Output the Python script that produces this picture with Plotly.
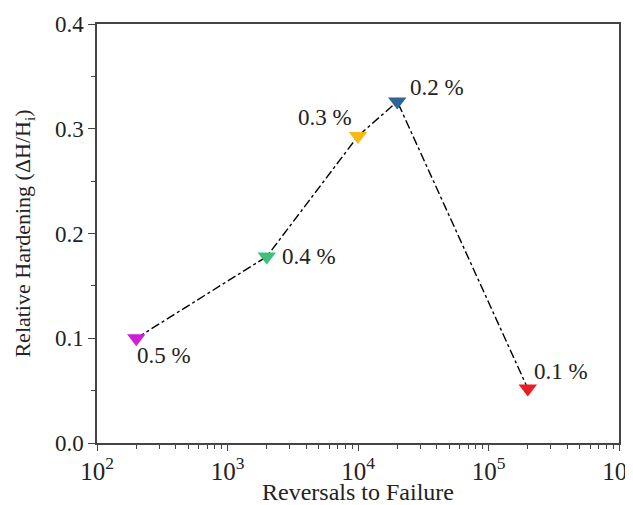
import plotly.graph_objects as go
import math

reversals = [200, 2000, 10000, 20000, 200000]
hardening = [0.100, 0.178, 0.293, 0.326, 0.052]
labels = ["0.5 %", "0.4 %", "0.3 %", "0.2 %", "0.1 %"]
colors = ["#d21ed4", "#3fc07a", "#f6b916", "#2e6597", "#ec1c24"]

label_anchor = ["left", "left", "right", "left", "left"]
label_shift = [(-1, -17), (13, 0), (-4, 19), (11, 14), (4, 17)]

fig = go.Figure()
fig.add_trace(go.Scatter(
    x=reversals, y=hardening, mode="lines",
    line=dict(color="black", width=1.4, dash="dashdot"),
    showlegend=False, hoverinfo="skip"))
fig.add_trace(go.Scatter(
    x=reversals, y=hardening, mode="markers",
    marker=dict(symbol="triangle-down", size=16, color=colors, line=dict(width=0)),
    showlegend=False))

for xv, yv, t, a, (dx, dy) in zip(reversals, hardening, labels, label_anchor, label_shift):
    fig.add_annotation(x=math.log10(xv), y=yv, xref="x", yref="y", text=t,
                       showarrow=False, xanchor=a, yanchor="middle",
                       xshift=dx, yshift=dy,
                       font=dict(size=23, color="#222"))

# the page body adds an 8 px offset; compensate so the plot area sits at
# x 97..619, y 24..443 within the 633x505 window
font = "Liberation Serif"
fig.update_layout(
    width=625, height=497,
    margin=dict(l=89, r=14, t=16, b=62),
    paper_bgcolor="white", plot_bgcolor="white",
    font=dict(family=font, size=23, color="#222"),
)
fig.update_xaxes(
    type="log", range=[1.99999, 6.00001], dtick=1, exponentformat="power",
    showline=True, linecolor="#444", linewidth=1.5, mirror=True,
    ticks="outside", ticklen=6, tickcolor="#444", tickwidth=1.2,
    minor=dict(ticks="outside", ticklen=4, tickcolor="#444", dtick="D1", showgrid=False),
    showgrid=False, zeroline=False, automargin=False, ticklabeloverflow="allow",
    title=dict(text="Reversals to Failure", font=dict(size=24), standoff=1),
    tickfont=dict(size=20),
)
fig.update_yaxes(
    range=[0, 0.4], dtick=0.1, tickformat=".1f",
    showline=True, linecolor="#444", linewidth=1.5, mirror=True,
    ticks="outside", ticklen=7, tickcolor="#444", tickwidth=1.2,
    minor=dict(ticks="outside", ticklen=4, tickcolor="#444", dtick=0.05, showgrid=False),
    showgrid=False, zeroline=False, automargin=False,
    title=dict(text="Relative Hardening (ΔH/H<sub>i</sub>)", font=dict(size=22), standoff=18),
    tickfont=dict(size=23),
)
fig.write_html("out.html")
